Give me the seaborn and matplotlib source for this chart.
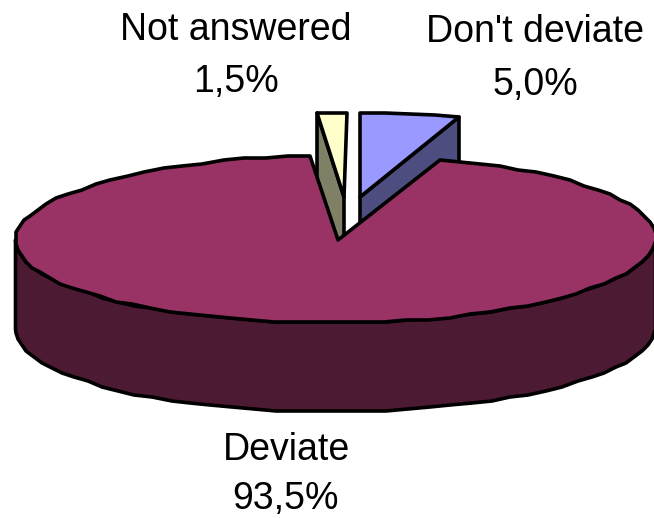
import numpy as np
import matplotlib
matplotlib.use("Agg")
import matplotlib.pyplot as plt
from matplotlib.patches import Polygon
import seaborn as sns

categories = ["Don't deviate", "Deviate", "Not answered"]
shares = [5.0, 93.5, 1.5]
share_labels = ["5,0%", "93,5%", "1,5%"]
top_colors = ["#9999FF", "#993366", "#FFFFCC"]
side_colors = ["#4D4D80", "#4D1A33", "#808066"]

sns.set_theme(style="white")
plt.rcParams["font.family"] = ["Liberation Sans", "DejaVu Sans"]

W, H = 654, 518
fig = plt.figure(figsize=(W / 100, H / 100), dpi=100)
ax = fig.add_axes([0, 0, 1, 1])
ax.set_xlim(0, W)
ax.set_ylim(H, 0)
ax.axis("off")
sns.despine(ax=ax, left=True, bottom=True)

RX, RY, DEPTH = 320.0, 84.0, 89.0
LW = 2.6


def rim(cx, cy, a0, a1, skew=0.0, snap=1.0):
    n = max(2, int(abs(a1 - a0) / 4.0) + 1)
    t = np.radians(np.linspace(a0, a1, n))
    x = cx + RX * np.sin(t) + skew * np.cos(t)
    y = cy - RY * np.cos(t)
    return np.column_stack([np.round(x / snap) * snap, np.round(y / snap) * snap])


def poly(pts, color, z):
    ax.add_patch(Polygon(pts, closed=True, facecolor=color, edgecolor="black",
                         linewidth=LW, joinstyle="round", zorder=z))


edges = np.concatenate([[0], np.cumsum(shares)]) * 3.6

# Slice 0: exploded, top right
a0, a1 = edges[0], edges[1]
tip0 = np.array([360.0, 197.0])
r0 = rim(tip0[0], tip0[1], a0, a1)
poly([tip0, r0[-1], r0[-1] + [0, DEPTH], tip0 + [0, DEPTH]], side_colors[0], 1)
poly(np.vstack([[tip0], r0]), top_colors[0], 2)

# Slice 2: exploded, top left
a0, a1 = edges[2], edges[3]
tip2 = np.array([344.0, 197.0])
r2 = rim(tip2[0], tip2[1], a0, a1, skew=3.0)
poly([tip2, r2[0], r2[0] + [0, DEPTH], tip2 + [0, DEPTH]], side_colors[2], 1)
poly(np.vstack([[tip2], r2]), top_colors[2], 2)

# Slice 1: main body
a0, a1 = edges[1], edges[2]
cx, cy = 335.5, 239.0
tip1 = np.array([338.0, 240.0])
r1 = rim(cx, cy, a0, a1, skew=5.0, snap=2.0)
lower = rim(cx, cy, 270, 90, skew=5.0, snap=2.0)
lower[0, 0], lower[-1, 0] = cx - RX, cx + RX
side = np.vstack([lower, (lower + [0, DEPTH])[::-1]])
poly(side, side_colors[1], 3)
poly(np.vstack([[tip1], r1]), top_colors[1], 4)

# Labels
pos = [(535, 32, 85), (286, 450, 499), (236, 30, 82)]
for name, lab, (x, y1, y2) in zip(categories, share_labels, pos):
    ax.text(x, y1, name, ha="center", va="center", fontsize=27, color="black")
    ax.text(x, y2, lab, ha="center", va="center", fontsize=27, color="black")

fig.savefig("out.png", dpi=100)
